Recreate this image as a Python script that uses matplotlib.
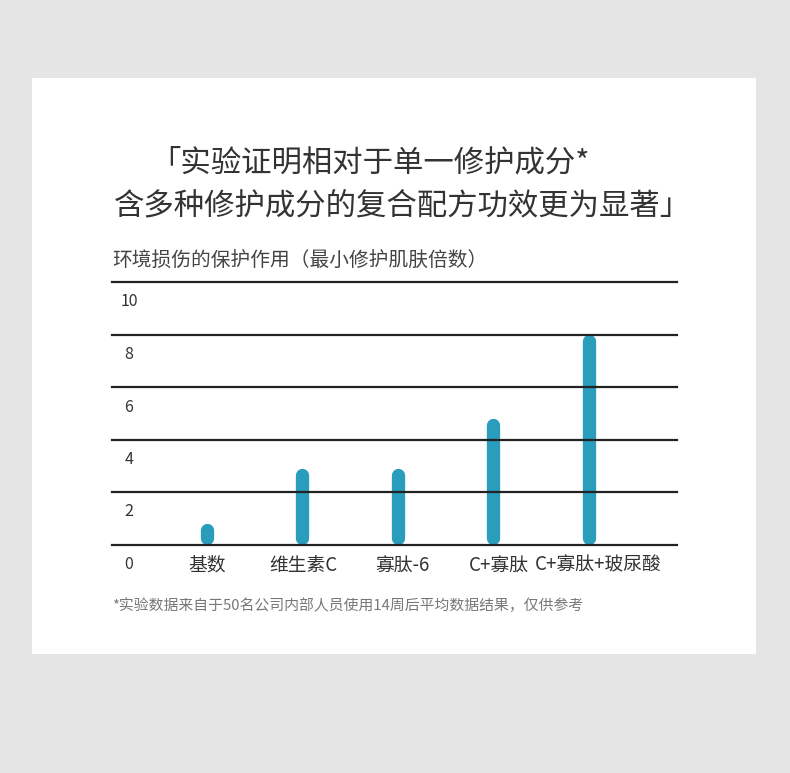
import matplotlib
matplotlib.use("Agg")
import matplotlib.pyplot as plt
from matplotlib.patches import Rectangle
import matplotlib.transforms as mtransforms

plt.rcParams['font.family'] = ['Noto Sans CJK SC', 'DejaVu Sans']

# ---- data ----
categories = ["基数", "维生素C", "寡肽-6", "C+寡肽", "C+寡肽+玻尿酸"]
values = [0.82, 2.9, 2.9, 4.8, 8.0]
yticks = [0, 2, 4, 6, 8, 10]
ytick_labels = ["0", "2", "4", "6", "8", "10"]
title_lines = ["「实验证明相对于单一修护成分*", "含多种修护成分的复合配方功效更为显著」"]
subtitle = "环境损伤的保护作用（最小修护肌肤倍数）"
footnote = "*实验数据来自于50名公司内部人员使用14周后平均数据结果，仅供参考"

# layout-only: horizontal nudges (px) of category labels
label_dx_px = [0, 1, 5, 6, 10]

W, H = 790, 773
fig = plt.figure(figsize=(W / 100, H / 100), dpi=100)
fig.patch.set_facecolor("#e5e5e5")

def fx(px):
    return px / W

def fy(py):
    return 1 - py / H

# white card
fig.patches.append(Rectangle((fx(32), fy(654)), fx(756) - fx(32), fy(78) - fy(654),
                             transform=fig.transFigure, facecolor="white",
                             edgecolor="none", zorder=-5))

# titles
fig.text(fx(370.5), fy(163), title_lines[0], ha="center", va="center",
         fontsize=21.9, color="#333333", fontweight="light")
fig.text(fx(402.5), fy(206), title_lines[1], ha="center", va="center",
         fontsize=21.9, color="#333333", fontweight="light")
fig.text(fx(112), fy(260), subtitle, ha="left", va="center",
         fontsize=14.2, color="#444444", fontweight="light")
fig.text(fx(112), fy(606), footnote, ha="left", va="center",
         fontsize=10.7, color="#777777", fontweight="light")

# axes
left, right, top, bottom = 112, 677, 282, 544.5
ax = fig.add_axes([fx(left), fy(bottom), fx(right) - fx(left), fy(top) - fy(bottom)], zorder=2)
ax.set_facecolor("none")
ax.set_ylim(0, 10)
x = list(range(len(categories)))
ax.set_xlim(-0.992, 4.925)
for s in ax.spines.values():
    s.set_visible(False)
ax.set_xticks([])
ax.set_yticks([])

for t in yticks:
    ax.axhline(t, color="#222222", linewidth=1.6, zorder=3, clip_on=False)

# tick labels below each grid line
trans_lbl = mtransforms.blended_transform_factory(ax.transAxes, ax.transData)
for t, lab in zip(yticks, ytick_labels):
    ax.text(0.030, t, lab, transform=trans_lbl + mtransforms.ScaledTranslation(0, -20 / 100, fig.dpi_scale_trans),
            ha="center", va="center", fontsize=11.5, color="#333333", fontweight="light")

# rounded bars
bar_px = 13.3
px_per_unit = (bottom - top) / 10.0
r = (bar_px / 2) / px_per_unit
for xi, v in zip(x, values):
    ax.plot([xi, xi], [r, v - r], color="#2a9cbc", linewidth=bar_px * 0.72,
            solid_capstyle="round", zorder=2, clip_on=False)

# category labels
for xi, lab, dx in zip(x, categories, label_dx_px):
    ax.text(xi, 0, lab,
            transform=ax.transData + mtransforms.ScaledTranslation(dx / 100, -20.5 / 100, fig.dpi_scale_trans),
            ha="center", va="center", fontsize=13.5, color="#333333", fontweight="light")

fig.savefig("out.png", dpi=100, facecolor=fig.get_facecolor())
